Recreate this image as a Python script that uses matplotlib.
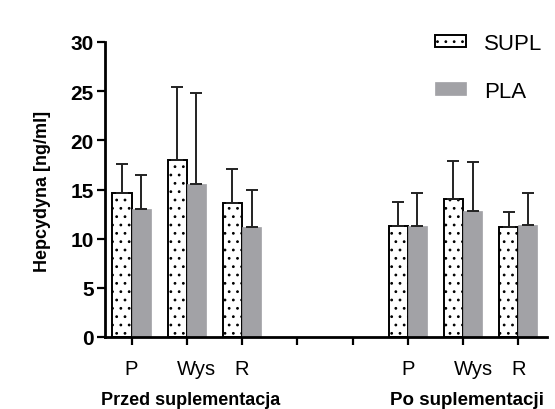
import matplotlib
matplotlib.use("Agg")
import matplotlib.pyplot as plt
import matplotlib.transforms as mtransforms
import numpy as np

plt.rcParams['font.family'] = ['Liberation Sans', 'DejaVu Sans']
plt.rcParams['hatch.linewidth'] = 0.8
plt.rcParams['hatch.color'] = 'black'

categories = ['P', 'Wys', 'R']
groups = ['Przed suplementacja', 'Po suplementacji']
series = ['SUPL', 'PLA']

supl_pre = [14.6, 18.0, 13.6]
supl_pre_err = [3.0, 7.4, 3.5]
pla_pre = [13.0, 15.6, 11.2]
pla_pre_err = [3.5, 9.2, 3.8]

supl_post = [11.3, 14.0, 11.2]
supl_post_err = [2.4, 3.9, 1.5]
pla_post = [11.3, 12.8, 11.4]
pla_post_err = [3.3, 5.0, 3.2]

yticks = [0, 5, 10, 15, 20, 25, 30]

fig = plt.figure(figsize=(5.55, 4.1), dpi=100)
ax = fig.add_axes([105/555, 1-338/410, (547-105)/555, (338-43)/410])

pre_x = np.arange(3)
post_x = np.arange(3) + 5
w = 0.345
gray = '#a2a2a6'
ekw = dict(ecolor='#222222', elinewidth=1.4, capsize=4.5, capthick=1.4)

supl_vals = supl_pre + supl_post
supl_errs = supl_pre_err + supl_post_err
pla_vals = pla_pre + pla_post
pla_errs = pla_pre_err + pla_post_err
xs = np.concatenate([pre_x, post_x])

ax.bar(xs - w/2, supl_vals, width=w, color='white', edgecolor='black',
       linewidth=1.4, hatch='..', label=series[0], zorder=2,
       yerr=[np.zeros(6), supl_errs], error_kw=ekw)
ax.bar(xs + w/2, pla_vals, width=w, color=gray, edgecolor=gray,
       linewidth=0.5, label=series[1], zorder=2,
       yerr=[np.zeros(6), pla_errs], error_kw=ekw)

ax.set_xlim(-0.48, 7.52)
ax.set_ylim(0, 30)
ax.set_yticks(yticks)
ax.set_yticklabels([str(v) for v in yticks], fontsize=15, fontweight='bold')
ax.set_xticks(np.arange(8))
ax.set_xticklabels(categories + ['', ''] + categories, fontsize=14.5)

for s in ['top', 'right']:
    ax.spines[s].set_visible(False)
for s in ['left', 'bottom']:
    ax.spines[s].set_linewidth(2)
ax.tick_params(axis='both', direction='out', width=1.6, length=6)
ax.tick_params(axis='x', pad=10)
ax.tick_params(axis='y', pad=2)

for lab in ax.get_xticklabels():
    if lab.get_text() == 'Wys':
        lab.set_transform(lab.get_transform() +
                          mtransforms.ScaledTranslation(0.1, 0, fig.dpi_scale_trans))

fig.text(43/555, 1-191/410, 'Hepcydyna [ng/ml]', rotation=90, ha='center',
         va='center', fontsize=13, fontweight='bold')
fig.text(191/555, 1-401/410, groups[0], ha='center', va='center',
         fontsize=13, fontweight='bold')
fig.text(390/555, 1-401/410, groups[1], ha='left', va='center',
         fontsize=13.5, fontweight='bold')

leg = ax.legend(loc='upper left', bbox_to_anchor=(435/555, 1-34/410),
                bbox_transform=fig.transFigure, frameon=False, fontsize=16,
                borderpad=0, borderaxespad=0, handlelength=1.4,
                handleheight=0.5, handletextpad=0.8, labelspacing=1.2)

fig.savefig('out.png', dpi=100)
